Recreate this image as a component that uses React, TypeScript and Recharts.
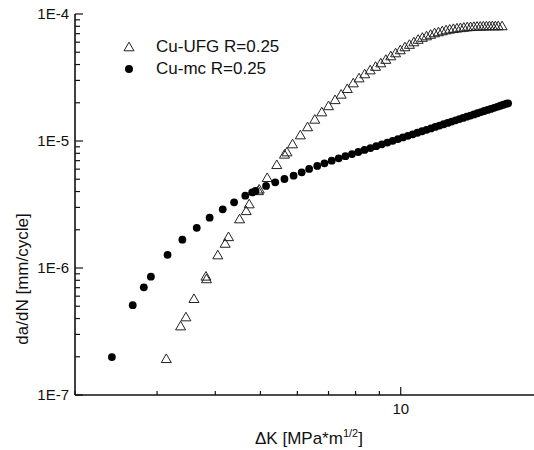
import {
  ScatterChart,
  Scatter,
  XAxis,
  YAxis,
  Legend,
} from "recharts";

// Cu-mc R=0.25 (filled circles)
const MC_DK = [
  2.4, 2.66, 2.81, 2.91, 3.16, 3.4, 3.65, 3.89, 4.15, 4.39, 4.64, 4.8, 4.88, 5.14,
  5.38, 5.63, 5.89, 6.13, 6.36, 6.62, 6.86, 7.11, 7.36, 7.61, 7.86, 8.11, 8.36,
  8.61, 8.86, 9.11, 9.36, 9.61, 9.86, 10.11, 10.36, 10.61, 10.86, 11.11, 11.36,
  11.61, 11.86, 12.11, 12.36, 12.61, 12.86, 13.11, 13.36, 13.61, 13.86, 14.11,
  14.36, 14.61, 14.86, 15.11, 15.36, 15.61, 15.86, 16.11, 16.36, 16.61, 16.86, 17.0,
];
const MC_DADN = [
  1.99e-7, 5.1e-7, 7.05e-7, 8.55e-7, 1.27e-6, 1.67e-6, 2.07e-6, 2.49e-6, 2.9e-6,
  3.29e-6, 3.71e-6, 3.94e-6, 4.04e-6, 4.43e-6, 4.73e-6, 5.02e-6, 5.33e-6, 5.67e-6,
  6.03e-6, 6.36e-6, 6.67e-6, 7.0e-6, 7.3e-6, 7.59e-6, 7.89e-6, 8.19e-6, 8.5e-6,
  8.8e-6, 9.1e-6, 9.41e-6, 9.72e-6, 1.003e-5, 1.035e-5, 1.066e-5, 1.098e-5,
  1.129e-5, 1.161e-5, 1.193e-5, 1.225e-5, 1.257e-5, 1.29e-5, 1.322e-5, 1.355e-5,
  1.388e-5, 1.421e-5, 1.454e-5, 1.487e-5, 1.52e-5, 1.553e-5, 1.587e-5, 1.62e-5,
  1.654e-5, 1.688e-5, 1.722e-5, 1.756e-5, 1.79e-5, 1.825e-5, 1.859e-5, 1.895e-5,
  1.93e-5, 1.964e-5, 1.98e-5,
];

// Cu-UFG R=0.25 (open triangles)
const UFG_DK = [
  3.14, 3.37, 3.46, 3.6, 3.82, 3.83, 4.05, 4.2, 4.27, 4.51, 4.66, 4.73, 4.95, 4.97,
  5.17, 5.42, 5.63, 5.7, 5.86, 6.09, 6.31, 6.54, 6.77, 7.0, 7.23, 7.45, 7.68, 7.91,
  8.14, 8.37, 8.6, 8.83, 9.06, 9.29, 9.52, 9.75, 9.98, 10.21, 10.44, 10.67, 10.9,
  11.13, 11.36, 11.59, 11.82, 12.05, 12.28, 12.51, 12.74, 12.97, 13.2, 13.43, 13.66,
  13.89, 14.12, 14.35, 14.58, 14.81, 15.04, 15.27, 15.5, 15.73, 15.96, 16.19, 16.5,
];
const UFG_DADN = [
  1.93e-7, 3.49e-7, 4.11e-7, 5.73e-7, 8.6e-7, 8.2e-7, 1.265e-6, 1.56e-6, 1.76e-6,
  2.43e-6, 2.82e-6, 3.19e-6, 4.05e-6, 4.17e-6, 5.14e-6, 6.5e-6, 7.85e-6, 8.18e-6,
  9.47e-6, 1.114e-5, 1.29e-5, 1.48e-5, 1.69e-5, 1.89e-5, 2.11e-5, 2.33e-5, 2.58e-5,
  2.86e-5, 3.13e-5, 3.37e-5, 3.62e-5, 3.86e-5, 4.11e-5, 4.38e-5, 4.67e-5, 4.93e-5,
  5.21e-5, 5.5e-5, 5.75e-5, 6.02e-5, 6.3e-5, 6.53e-5, 6.71e-5, 6.9e-5, 7.09e-5,
  7.22e-5, 7.35e-5, 7.48e-5, 7.58e-5, 7.66e-5, 7.73e-5, 7.78e-5, 7.84e-5, 7.9e-5,
  7.93e-5, 7.96e-5, 7.99e-5, 8.0e-5, 8.02e-5, 8.03e-5, 8.05e-5, 8.05e-5, 8.05e-5,
  8.05e-5, 8.05e-5,
];

const X_TICKS = [2, 3, 4, 5, 6, 7, 8, 9, 10, 20];
const X_MAJOR = [10];
const Y_TICKS = [
  1e-7, 2e-7, 3e-7, 4e-7, 5e-7, 6e-7, 7e-7, 8e-7, 9e-7,
  1e-6, 2e-6, 3e-6, 4e-6, 5e-6, 6e-6, 7e-6, 8e-6, 9e-6,
  1e-5, 2e-5, 3e-5, 4e-5, 5e-5, 6e-5, 7e-5, 8e-5, 9e-5, 1e-4,
];
const Y_MAJOR = [1e-7, 1e-6, 1e-5, 1e-4];
const Y_MAJOR_LABELS = ["1E-7", "1E-6", "1E-5", "1E-4"];

const FONT = "'Liberation Sans', Arial, sans-serif";
const INK = "#111";

const mcData = MC_DK.map((dk, i) => ({ dk, dadn: MC_DADN[i] }));
const ufgData = UFG_DK.map((dk, i) => ({ dk, dadn: UFG_DADN[i] }));

function Triangle(p: any) {
  const { cx, cy } = p;
  return (
    <polygon
      points={`${cx},${cy - 4.8} ${cx - 5},${cy + 3.8} ${cx + 5},${cy + 3.8}`}
      fill="none"
      stroke="#222"
      strokeWidth={1}
    />
  );
}

function Dot(p: any) {
  const { cx, cy } = p;
  return <circle cx={cx} cy={cy} r={3.9} fill="#000" />;
}

function YTick(p: any) {
  const { x, y, payload } = p;
  const idx = Y_MAJOR.indexOf(payload.value);
  const major = idx >= 0;
  return (
    <g>
      <line x1={x} x2={x + (major ? 8 : 5)} y1={y} y2={y} stroke={INK} strokeWidth={1.2} />
      {major && (
        <text x={x - 6} y={y} dy={5} textAnchor="end" fontSize={15} fontFamily={FONT} fill={INK}>
          {Y_MAJOR_LABELS[idx]}
        </text>
      )}
    </g>
  );
}

function XTick(p: any) {
  const { x, y, payload } = p;
  const major = X_MAJOR.includes(payload.value);
  return (
    <g>
      <line x1={x} x2={x} y1={y} y2={y - (major ? 8 : 4)} stroke={INK} strokeWidth={1.2} />
      {major && (
        <text x={x} y={y + 19} textAnchor="middle" fontSize={15} fontFamily={FONT} fill={INK}>
          {payload.value}
        </text>
      )}
    </g>
  );
}

function XLabel(p: any) {
  const vb = p.viewBox;
  return (
    <text x={vb.x + 180} y={vb.y + 49} fontSize={17} fontFamily={FONT} fill={INK}>
      ΔK [MPa*m
      <tspan dy={-7} fontSize={11}>1/2</tspan>
      <tspan dy={7} fontSize={17}>]</tspan>
    </text>
  );
}

function YLabel(p: any) {
  const vb = p.viewBox;
  const x = vb.x + 28;
  const y = vb.y + 265;
  return (
    <text
      x={x}
      y={y}
      transform={`rotate(-90, ${x}, ${y})`}
      textAnchor="middle"
      fontSize={17}
      fontFamily={FONT}
      fill={INK}
    >
      da/dN [mm/cycle]
    </text>
  );
}

function LegendBox() {
  const row = { display: "flex", alignItems: "center", height: 22 } as const;
  return (
    <div style={{ fontFamily: FONT, fontSize: 17, color: INK }}>
      <div style={row}>
        <svg width={20} height={22}>
          <polygon points="10,6.2 5,14.8 15,14.8" fill="none" stroke="#222" strokeWidth={1} />
        </svg>
        <span style={{ marginLeft: 17 }}>Cu-UFG R=0.25</span>
      </div>
      <div style={row}>
        <svg width={20} height={22}>
          <circle cx={10} cy={11} r={4} fill="#000" />
        </svg>
        <span style={{ marginLeft: 17 }}>Cu-mc R=0.25</span>
      </div>
    </div>
  );
}

export default function App() {
  return (
    <div
      style={{
        position: "absolute",
        left: 0,
        top: 0,
        width: 534,
        height: 450,
        overflow: "hidden",
        background: "#fff",
      }}
    >
      <ScatterChart
        width={560}
        height={450}
        margin={{ top: 14, right: 19, bottom: 0, left: 0 }}
      >
        <XAxis
          xAxisId="b"
          type="number"
          dataKey="dk"
          scale="log"
          domain={[2, 20]}
          allowDataOverflow
          ticks={X_TICKS}
          interval={0}
          height={55}
          tickSize={0}
          tickMargin={0}
          tickLine={false}
          tick={<XTick />}
          axisLine={{ stroke: INK, strokeWidth: 1.6 }}
          label={<XLabel />}
        />
        <XAxis
          xAxisId="t"
          orientation="top"
          type="number"
          dataKey="dk"
          scale="log"
          domain={[2, 20]}
          allowDataOverflow
          height={0}
          tick={false}
          tickLine={false}
          axisLine={{ stroke: INK, strokeWidth: 1.6 }}
        />
        <YAxis
          yAxisId="l"
          type="number"
          dataKey="dadn"
          scale="log"
          domain={[1e-7, 1e-4]}
          allowDataOverflow
          ticks={Y_TICKS}
          interval={0}
          width={75}
          tickSize={0}
          tickMargin={0}
          tickLine={false}
          tick={<YTick />}
          axisLine={{ stroke: INK, strokeWidth: 1.6 }}
          label={<YLabel />}
        />
        <Legend
          layout="horizontal"
          align="center"
          verticalAlign="middle"
          content={<LegendBox />}
          wrapperStyle={{ position: "absolute", left: 119, top: 36, width: "auto" }}
        />
        <Scatter
          name="Cu-UFG R=0.25"
          data={ufgData}
          xAxisId="b"
          yAxisId="l"
          shape={<Triangle />}
          isAnimationActive={false}
        />
        <Scatter
          name="Cu-mc R=0.25"
          data={mcData}
          xAxisId="b"
          yAxisId="l"
          shape={<Dot />}
          isAnimationActive={false}
        />
      </ScatterChart>
    </div>
  );
}
